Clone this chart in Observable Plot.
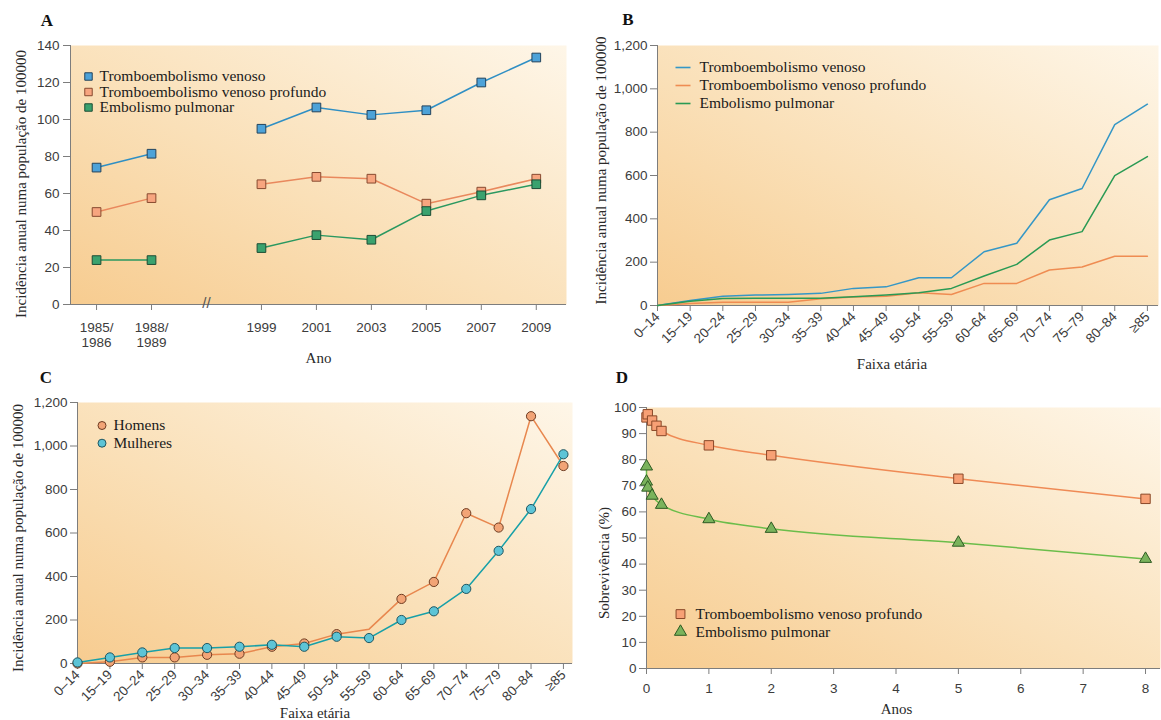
<!DOCTYPE html>
<html><head><meta charset="utf-8">
<script src="https://cdn.jsdelivr.net/npm/d3@7"></script>
<script src="https://cdn.jsdelivr.net/npm/@observablehq/plot@0.6"></script>
<style>
html,body{margin:0;padding:0;background:#fff;}
#root{position:relative;width:1161px;height:720px;overflow:hidden;}
.panel{position:absolute;}
.letter{position:absolute;font-family:"Liberation Serif","Times New Roman",serif;font-weight:bold;font-size:17px;color:#111;transform:translate(-50%,-50%);}
</style></head><body><div id="root"></div>
<script>
// ---------- DATA ----------
// Panel A
const anosA = ["1985/\n1986", "1988/\n1989", "", "1999", "2001", "2003", "2005", "2007", "2009"];
const tevA = [74, 81.5, null, 95, 106.5, 102.5, 105, 120, 133.5];
const tvpA = [50, 57.5, null, 65, 69, 68, 54.5, 61, 68];
const epA  = [24, 24, null, 30.5, 37.5, 35, 50.5, 59, 65];
const yTicksA = [0, 20, 40, 60, 80, 100, 120, 140];
// Panel B
const faixas = ["0–14","15–19","20–24","25–29","30–34","35–39","40–44","45–49","50–54","55–59","60–64","65–69","70–74","75–79","80–84","≥85"];
const tevB = [0, 23, 43, 48, 51, 56, 79, 86, 128, 128, 248, 287, 488, 540, 835, 929];
const tvpB = [0, 9, 15, 15, 15, 31, 39, 43, 59, 51, 102, 102, 164, 178, 227, 227];
const epB  = [0, 20, 32, 33, 34, 34, 40, 48, 59, 79, 136, 190, 302, 341, 599, 687];
const yTicksBC = [0, 200, 400, 600, 800, 1000, 1200];
// Panel C
const homens   = [0, 8, 28, 28, 40, 45, 77, 92, 135, 158, 297, 375, 691, 625, 1137, 908];
const mulheres = [5, 28, 51, 71, 71, 77, 86, 77, 123, 117, 200, 240, 343, 518, 710, 962];
const homensSemMarcador = ["55–59"];
// Panel D
const anosTVP = [0, 0.02, 0.09, 0.16, 0.24, 1, 2, 5, 8];
const sobrevTVP = [96.2, 97.4, 95, 93, 91, 85.5, 81.7, 72.7, 65];
const anosEP = [0, 0, 0.02, 0.09, 0.24, 1, 2, 5, 8];
const sobrevEP = [77.4, 71.6, 69.3, 66.2, 62.7, 57.2, 53.5, 48.2, 42];
const xTicksD = [0, 1, 2, 3, 4, 5, 6, 7, 8];
const yTicksD = [0, 10, 20, 30, 40, 50, 60, 70, 80, 90, 100];
// Labels
const nomesA = ["Tromboembolismo venoso", "Tromboembolismo venoso profundo", "Embolismo pulmonar"];
const nomesC = ["Homens", "Mulheres"];
const nomesD = ["Tromboembolismo venoso profundo", "Embolismo pulmonar"];
const tituloY = "Incidência anual numa população de 100000";

// ---------- STYLE ----------
const serif = "'Liberation Serif','Times New Roman',serif";
const sans = "'Liberation Sans',Arial,sans-serif";
const tickFill = "#3c3c3c", axisStroke = "#7d7d7d", textCol = "#1a1a1a";
const ns = "http://www.w3.org/2000/svg";
const root = document.getElementById("root");

function addGradient(svg, id) {
  const defs = document.createElementNS(ns, "defs");
  defs.innerHTML = `<linearGradient id="${id}" x1="0" y1="1" x2="1" y2="0">
    <stop offset="0" stop-color="#f7cc90"/><stop offset="0.45" stop-color="#fae0b8"/>
    <stop offset="1" stop-color="#fef6e8"/></linearGradient>`;
  svg.insertBefore(defs, svg.firstChild);
}
function place(svg, left, top) {
  svg.classList.add("panel");
  svg.style.left = left + "px"; svg.style.top = top + "px";
  root.appendChild(svg);
}
function letter(t, x, y) {
  const d = document.createElement("div");
  d.className = "letter"; d.textContent = t;
  d.style.left = x + "px"; d.style.top = y + "px";
  root.appendChild(d);
}
const styleBase = {fontFamily: sans, fontSize: "13.5px", color: tickFill, background: "transparent", overflow: "visible"};
const legendLine = {draw(ctx) { ctx.moveTo(-7.5, 0); ctx.lineTo(7.5, 0); }};
function legendText(t, dx, dy) {
  return Plot.text([t], {text: d => d, frameAnchor: "top-left", dx, dy, textAnchor: "start", lineAnchor: "middle", fontFamily: serif, fontSize: 15.5, fill: textCol});
}
function yTitle(t, dx, dy) {
  return Plot.text([t], {text: d => d, frameAnchor: "left", rotate: -90, dx, dy, textAnchor: "middle", lineAnchor: "middle", fontFamily: serif, fontSize: 15, fill: "#2a2a2a"});
}
function xTitle(t, dx, dy) {
  return Plot.text([t], {text: d => d, frameAnchor: "bottom", dx, dy, textAnchor: "middle", lineAnchor: "middle", fontFamily: serif, fontSize: 15, fill: "#2a2a2a"});
}

// ---------- PANEL A ----------
{
  const xDom = [-0.474, 8.55];
  const cores = [
    {line: "#2f8fc4", fill: "#4da2d8", stroke: "#23435c"},
    {line: "#e9885d", fill: "#f7a57f", stroke: "#874a30"},
    {line: "#2a9860", fill: "#3aa26e", stroke: "#1d4d35"}
  ];
  const series = [tevA, tvpA, epA];
  const idx = d3.range(anosA.length);
  const tickIdx = idx.filter(i => anosA[i] !== "");
  const quebra = idx.filter(i => anosA[i] === "");
  const marks = [
    Plot.frame({fill: "url(#gA)", stroke: "none"}),
    Plot.ruleX([xDom[0]], {stroke: axisStroke}),
    Plot.ruleY([0], {stroke: axisStroke}),
    Plot.axisY({ticks: yTicksA, tickSize: 7, tickPadding: 4, stroke: axisStroke, fill: tickFill, label: null}),
    Plot.axisX({ticks: tickIdx, tickFormat: i => anosA[i], tickSize: 6, tickPadding: 11, lineHeight: 1.12, stroke: axisStroke, fill: tickFill, label: null}),
    Plot.text(quebra, {x: d => d, y: () => 0, text: () => "//", fontSize: 15, fill: "#555", dy: -1}),
    yTitle(tituloY, -49, 9),
    xTitle("Ano", 0, 54)
  ];
  series.forEach((s, k) => {
    const data = idx.map(i => ({i, v: s[i]}));
    marks.push(Plot.line(data, {x: "i", y: "v", stroke: cores[k].line, strokeWidth: 1.5}));
  });
  series.forEach((s, k) => {
    const data = idx.filter(i => s[i] != null).map(i => ({i, v: s[i]}));
    marks.push(Plot.dot(data, {x: "i", y: "v", symbol: "square", r: 4.9, fill: cores[k].fill, stroke: cores[k].stroke, strokeWidth: 1}));
  });
  nomesA.forEach((n, k) => {
    marks.push(Plot.dot([n], {frameAnchor: "top-left", dx: 18, dy: 31 + k * 15.5, symbol: "square", r: 4.2, fill: cores[k].fill, stroke: cores[k].stroke, strokeWidth: 1}));
    marks.push(legendText(n, 29, 31 + k * 15.5));
  });
  const svg = Plot.plot({
    width: 580, height: 370, marginLeft: 70, marginTop: 45, marginBottom: 66, marginRight: 14,
    style: styleBase,
    x: {domain: xDom}, y: {domain: [0, 140]},
    marks
  });
  addGradient(svg, "gA");
  place(svg, 0, 0);
  letter("A", 47, 21);
}

// ---------- PANEL B ----------
{
  const xDom = [0, 15.34];
  const cores = ["#3597c6", "#ef8c52", "#2a9a54"];
  const series = [tevB, tvpB, epB];
  const idx = d3.range(faixas.length);
  const marks = [
    Plot.frame({fill: "url(#gB)", stroke: "none"}),
    Plot.ruleX([xDom[0]], {stroke: axisStroke}),
    Plot.ruleY([0], {stroke: axisStroke}),
    Plot.axisY({ticks: yTicksBC, tickFormat: d3.format(","), tickSize: 7, tickPadding: 3, stroke: axisStroke, fill: tickFill, label: null}),
    Plot.axisX({ticks: idx, tickFormat: i => faixas[i], tickRotate: -45, tickSize: 6, tickPadding: 3, stroke: axisStroke, fill: tickFill, label: null}),
    yTitle(tituloY, -56, -5),
    xTitle("Faixa etária", -16, 59)
  ];
  series.forEach((s, k) => {
    marks.push(Plot.line(idx.map(i => ({i, v: s[i]})), {x: "i", y: "v", stroke: cores[k], strokeWidth: 1.5}));
  });
  nomesA.forEach((n, k) => {
    marks.push(Plot.dot([n], {frameAnchor: "top-left", dx: 25.5, dy: 22 + k * 18, symbol: legendLine, fill: "none", stroke: cores[k], strokeWidth: 1.6}));
    marks.push(legendText(n, 42, 22 + k * 18));
  });
  const svg = Plot.plot({
    width: 581, height: 370, marginLeft: 77, marginTop: 45, marginBottom: 65, marginRight: 3,
    style: styleBase,
    x: {domain: xDom}, y: {domain: [0, 1200]},
    marks
  });
  addGradient(svg, "gB");
  place(svg, 580, 0);
  letter("B", 628, 20);
}

// ---------- PANEL C ----------
{
  const xDom = [0, 15.28];
  const cores = [
    {line: "#e8874e", fill: "#f2a476", stroke: "#6e3c22"},
    {line: "#17a0a8", fill: "#5dc4d6", stroke: "#1f5661"}
  ];
  const series = [homens, mulheres];
  const idx = d3.range(faixas.length);
  const marks = [
    Plot.frame({fill: "url(#gC)", stroke: "none"}),
    Plot.ruleX([xDom[0]], {stroke: axisStroke}),
    Plot.ruleY([0], {stroke: axisStroke}),
    Plot.axisY({ticks: yTicksBC, tickFormat: d3.format(","), tickSize: 7, tickPadding: 3, stroke: axisStroke, fill: tickFill, label: null}),
    Plot.axisX({ticks: idx, tickFormat: i => faixas[i], tickRotate: -45, tickSize: 6, tickPadding: 3, stroke: axisStroke, fill: tickFill, label: null}),
    yTitle(tituloY, -59, 5),
    xTitle("Faixa etária", -10, 50)
  ];
  series.forEach((s, k) => {
    marks.push(Plot.line(idx.map(i => ({i, v: s[i]})), {x: "i", y: "v", stroke: cores[k].line, strokeWidth: 1.5}));
  });
  series.forEach((s, k) => {
    const keep = idx.filter(i => !(k === 0 && homensSemMarcador.includes(faixas[i])));
    marks.push(Plot.dot(keep.map(i => ({i, v: s[i]})), {x: "i", y: "v", r: 4.6, fill: cores[k].fill, stroke: cores[k].stroke, strokeWidth: 1}));
  });
  nomesC.forEach((n, k) => {
    marks.push(Plot.dot([n], {frameAnchor: "top-left", dx: 24.5, dy: 23 + k * 17.7, r: 4, fill: cores[k].fill, stroke: cores[k].stroke, strokeWidth: 1}));
    marks.push(legendText(n, 36, 23 + k * 17.7));
  });
  const svg = Plot.plot({
    width: 580, height: 350, marginLeft: 77, marginTop: 32, marginBottom: 57, marginRight: 8,
    style: styleBase,
    x: {domain: xDom}, y: {domain: [0, 1200]},
    marks
  });
  addGradient(svg, "gC");
  place(svg, 0, 370);
  letter("C", 46, 378);
}

// ---------- PANEL D ----------
{
  const xDom = [0, 8.24];
  const corTVP = {line: "#ef8a55", fill: "#f7a075", stroke: "#8a4828"};
  const corEP = {line: "#6bbd4a", fill: "#7ab35c", stroke: "#2e5a22"};
  const tvp = anosTVP.map((a, i) => ({a, v: sobrevTVP[i]}));
  const ep = anosEP.map((a, i) => ({a, v: sobrevEP[i]}));
  const marks = [
    Plot.frame({fill: "url(#gD)", stroke: "none"}),
    Plot.ruleX([xDom[0]], {stroke: axisStroke}),
    Plot.ruleY([0], {stroke: axisStroke}),
    Plot.axisY({ticks: yTicksD, tickSize: 7, tickPadding: 3, stroke: axisStroke, fill: tickFill, label: null}),
    Plot.axisX({ticks: xTicksD, tickSize: 6, tickPadding: 9, stroke: axisStroke, fill: tickFill, label: null}),
    yTitle("Sobrevivência (%)", -42, 25),
    xTitle("Anos", -7, 41),
    Plot.line(tvp, {x: "a", y: "v", stroke: corTVP.line, strokeWidth: 1.5, curve: "monotone-x"}),
    Plot.line(ep, {x: "a", y: "v", stroke: corEP.line, strokeWidth: 1.5, curve: "monotone-x"}),
    Plot.dot(tvp, {x: "a", y: "v", symbol: "square", r: 5.3, fill: corTVP.fill, stroke: corTVP.stroke, strokeWidth: 1}),
    Plot.dot(ep, {x: "a", y: "v", symbol: "triangle", r: 4.5, fill: corEP.fill, stroke: corEP.stroke, strokeWidth: 1}),
    Plot.dot([nomesD[0]], {frameAnchor: "top-left", dx: 34, dy: 206.6, symbol: "square", r: 5, fill: corTVP.fill, stroke: corTVP.stroke, strokeWidth: 1}),
    legendText(nomesD[0], 49, 206.6),
    Plot.dot([nomesD[1]], {frameAnchor: "top-left", dx: 34, dy: 224.3, symbol: "triangle", r: 4.5, fill: corEP.fill, stroke: corEP.stroke, strokeWidth: 1}),
    legendText(nomesD[1], 49, 224.3)
  ];
  const svg = Plot.plot({
    width: 581, height: 350, marginLeft: 66, marginTop: 37, marginBottom: 52, marginRight: 1,
    style: styleBase,
    x: {domain: xDom}, y: {domain: [0, 100]},
    marks
  });
  addGradient(svg, "gD");
  place(svg, 580, 370);
  letter("D", 622, 378);
}
</script></body></html>
